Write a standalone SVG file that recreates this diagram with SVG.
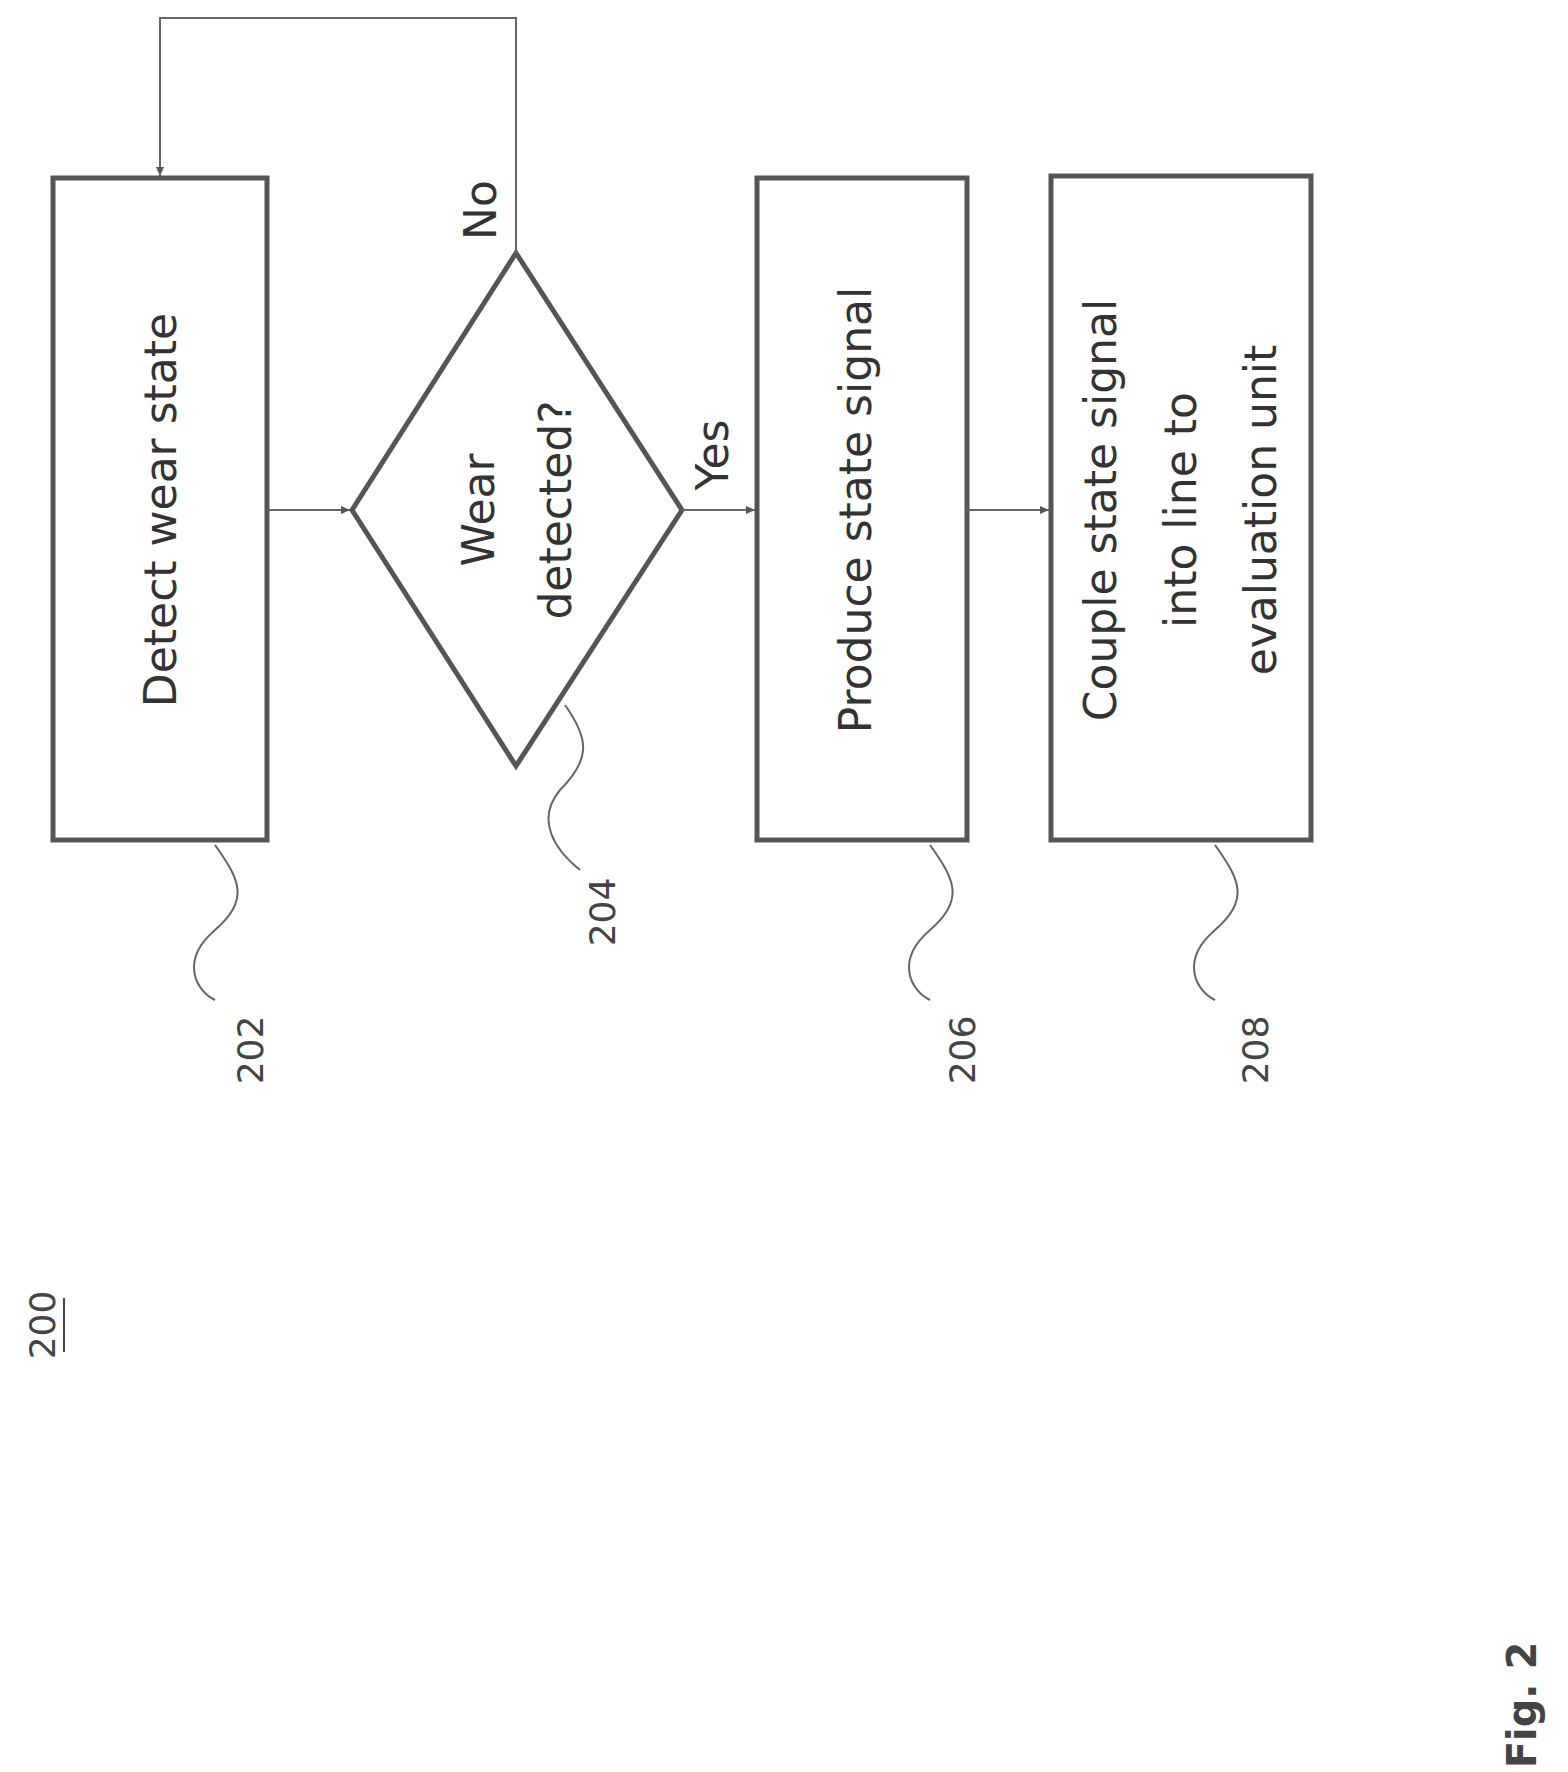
<svg xmlns="http://www.w3.org/2000/svg" width="1568" height="1772" viewBox="0 0 1568 1772">
<style>
.b{fill:none;stroke:#555;stroke-width:5}
.c{fill:none;stroke:#666;stroke-width:2}
.t{font-family:"DejaVu Sans",sans-serif;font-size:44px;fill:#333;text-anchor:middle;dominant-baseline:central}
.n{font-family:"DejaVu Sans",sans-serif;font-size:36px;fill:#444;text-anchor:middle;dominant-baseline:central}
</style>
<defs><marker id="a" markerWidth="10" markerHeight="10" refX="9" refY="5" orient="auto" markerUnits="userSpaceOnUse"><path d="M0,1 L9,5 L0,9 Z" fill="#555"/></marker></defs>
<rect width="1568" height="1772" fill="#fff"/>
<g id="n202"><rect class="b" x="53" y="178" width="214" height="662"/><text class="t" transform="rotate(-90 160 510)" x="160" y="510">Detect wear state</text></g>
<g id="n204"><polygon class="b" points="352,510 516,253 682,510 516,766"/><text class="t" transform="rotate(-90 478 510)" x="478" y="510">Wear</text><text class="t" transform="rotate(-90 555 510)" x="555" y="510">detected?</text></g>
<g id="n206"><rect class="b" x="757" y="178" width="210" height="662"/><text class="t" transform="rotate(-90 855 510)" x="855" y="510">Produce state signal</text></g>
<g id="n208"><rect class="b" x="1051" y="176" width="260" height="664"/><text class="t" transform="rotate(-90 1100 510)" x="1100" y="510">Couple state signal</text><text class="t" transform="rotate(-90 1180 510)" x="1180" y="510">into line to</text><text class="t" transform="rotate(-90 1260 510)" x="1260" y="510">evaluation unit</text></g>
<g id="connectors">
<path class="c" d="M267,510 H350" marker-end="url(#a)"/>
<path class="c" d="M682,510 H755" marker-end="url(#a)"/>
<path class="c" d="M967,510 H1049" marker-end="url(#a)"/>
<path class="c" d="M516,253 V18 H160 V176" marker-end="url(#a)"/>
<text class="t" transform="rotate(-90 480 210)" x="480" y="210">No</text>
<text class="t" transform="rotate(-90 712 455)" x="712" y="455">Yes</text>
</g>
<g id="labels">
<path class="c" d="M215,845 C240,880 250,900 215,930 C180,960 195,990 215,1000"/>
<text class="n" transform="rotate(-90 250 1050)" x="250" y="1050">202</text>
<path class="c" d="M565,705 C590,740 590,760 560,790 C535,820 555,850 580,870"/>
<text class="n" transform="rotate(-90 602 912)" x="602" y="912">204</text>
<path class="c" d="M930,845 C955,880 965,900 930,930 C895,960 910,990 930,1000"/>
<text class="n" transform="rotate(-90 962 1050)" x="962" y="1050">206</text>
<path class="c" d="M1215,845 C1240,880 1250,900 1215,930 C1180,960 1195,990 1215,1000"/>
<text class="n" transform="rotate(-90 1255 1050)" x="1255" y="1050">208</text>
<text class="n" transform="rotate(-90 42 1325)" x="42" y="1325">200</text>
<line x1="64" y1="1298" x2="64" y2="1352" stroke="#444" stroke-width="2"/>
<text class="n" style="font-weight:bold;font-size:40px" transform="rotate(-90 1522 1705)" x="1522" y="1705">Fig. 2</text>
</g>
</svg>
